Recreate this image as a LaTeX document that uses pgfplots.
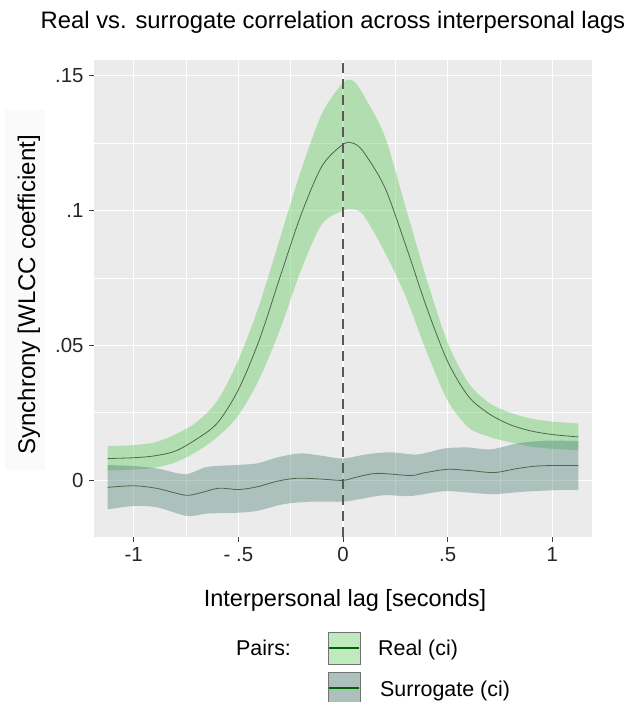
\documentclass[border=0pt]{standalone}
\usepackage{fontspec}
\setmainfont{Liberation Sans}
\usepackage{pgfplots}
\usepackage{pgfplotstable}
\pgfplotsset{compat=1.18}
\usepgfplotslibrary{fillbetween}
\definecolor{panel}{HTML}{EBEBEB}
\definecolor{realfill}{RGB}{92,202,92}
\definecolor{surfill}{RGB}{78,128,118}
\definecolor{meanline}{RGB}{75,105,75}
\definecolor{keyline}{RGB}{0,100,0}

% Real pairs: x, mean, lower CI, upper CI
\pgfplotstableread{
x m lo hi
-1.125 0.0080 0.0036 0.0126
-1.0 0.0083 0.0039 0.0130
-0.9 0.0090 0.0046 0.0140
-0.8 0.0108 0.0066 0.0170
-0.7 0.0152 0.0105 0.0215
-0.6 0.0212 0.0160 0.0295
-0.5 0.0335 0.0240 0.0445
-0.4 0.0520 0.0375 0.0650
-0.3 0.0755 0.0560 0.0900
-0.2 0.0985 0.0780 0.1150
-0.1 0.1165 0.0950 0.1360
0.0 0.1245 0.0999 0.1474
0.05 0.1249 0.1005 0.1480
0.1 0.1215 0.0980 0.1425
0.2 0.1085 0.0845 0.1275
0.3 0.0870 0.0680 0.1010
0.4 0.0640 0.0475 0.0745
0.5 0.0440 0.0295 0.0510
0.6 0.0310 0.0195 0.0360
0.7 0.0245 0.0160 0.0285
0.8 0.0205 0.0140 0.0250
0.9 0.0182 0.0124 0.0228
1.0 0.0169 0.0116 0.0217
1.125 0.0160 0.0111 0.0210
}\realdata

% Surrogate pairs: mean
\pgfplotstableread{
x y
-1.125 -0.0027
-1.0 -0.0021
-0.888 -0.0031
-0.753 -0.0056
-0.681 -0.0047
-0.593 -0.0030
-0.5 -0.0035
-0.41 -0.0025
-0.314 -0.0004
-0.219 0.0007
-0.107 0.0004
0.0 -0.0001
0.069 0.0012
0.164 0.0025
0.324 0.0017
0.388 0.0027
0.5 0.0040
0.611 0.0035
0.723 0.0028
0.834 0.0043
0.946 0.0053
1.125 0.0054
}\surmean

% Surrogate pairs: upper CI
\pgfplotstableread{
x y
-1.125 0.0056
-1.0 0.0052
-0.888 0.0043
-0.753 0.0022
-0.649 0.0049
-0.506 0.0056
-0.41 0.0062
-0.314 0.0084
-0.203 0.0099
-0.091 0.0089
0.0 0.0080
0.116 0.0096
0.228 0.0103
0.356 0.0095
0.483 0.0117
0.595 0.0121
0.707 0.0114
0.834 0.0136
0.962 0.0146
1.125 0.0145
}\surhi

% Surrogate pairs: lower CI
\pgfplotstableread{
x y
-1.125 -0.0109
-1.0 -0.0096
-0.888 -0.0101
-0.745 -0.0133
-0.649 -0.0124
-0.506 -0.0121
-0.41 -0.0114
-0.282 -0.0089
-0.155 -0.0080
0.0 -0.0080
0.069 -0.0072
0.196 -0.0056
0.324 -0.0059
0.483 -0.0041
0.611 -0.0047
0.723 -0.0052
0.866 -0.0043
1.026 -0.0037
1.125 -0.0037
}\surlo

\begin{document}
\begin{tikzpicture}
\path (0bp,0bp) rectangle (640bp,702bp);
\fill[black!2] (5bp,232bp) rectangle (45bp,592bp);
\begin{axis}[
  at={(94bp,165bp)}, anchor=south west,
  scale only axis, width=498bp, height=477bp,
  xmin=-1.19, xmax=1.19, ymin=-0.0211, ymax=0.1558,
  axis background/.style={fill=panel},
  axis line style={draw=none},
  grid=both,
  major grid style={white, line width=1.1bp},
  minor grid style={white, line width=0.55bp},
  xtick={-1,-0.5,0,0.5,1},
  xticklabels={-1,- .5,0,.5,1},
  minor xtick={-0.75,-0.25,0.25,0.75},
  ytick={0,0.05,0.1,0.15},
  yticklabels={0,.05,.1,.15},
  minor ytick={0.025,0.075,0.125},
  xtick pos=bottom, ytick pos=left,
  tick align=outside,
  major tick length=5bp, minor tick length=0bp,
  tick style={black!75, line width=0.6bp},
  ticklabel style={font=\fontsize{20.5}{24}\selectfont, text=black!85},
  xticklabel style={yshift=-2bp},
  yticklabel style={xshift=-2bp},
]
\addplot[name path=rhi, draw=none, smooth] table[x=x, y=hi] {\realdata};
\addplot[name path=rlo, draw=none, smooth] table[x=x, y=lo] {\realdata};
\addplot[realfill, fill opacity=0.4, draw=none] fill between[of=rhi and rlo];
\addplot[name path=shi, draw=none, smooth] table {\surhi};
\addplot[name path=slo, draw=none, smooth] table {\surlo};
\addplot[surfill, fill opacity=0.4, draw=none] fill between[of=shi and slo];
\addplot[meanline, line width=0.8bp, smooth] table[x=x, y=m] {\realdata};
\addplot[meanline, line width=0.8bp, smooth] table {\surmean};
\addplot[black!65, line width=1.6bp, dash pattern=on 10bp off 6bp] coordinates {(0,-0.0211) (0,0.1558)};
\end{axis}
% titles
\node[anchor=base, font=\fontsize{23.9}{28}\selectfont] at (333bp,673.5bp) {Real vs. surrogate correlation across interpersonal lags};
\node[anchor=base, font=\fontsize{23.6}{27}\selectfont] at (345bp,95bp) {Interpersonal lag [seconds]};
\node[rotate=90, anchor=center, font=\fontsize{24.2}{28}\selectfont] at (29bp,407bp) {Synchrony [WLCC coefficient]};
% legend
\node[anchor=base west, font=\fontsize{21.5}{25}\selectfont, inner sep=0pt] at (236bp,46bp) {Pairs:};
\fill[realfill, fill opacity=0.4] (328bp,38bp) rectangle (360bp,70bp);
\fill[panel] (328bp,0bp) rectangle (360bp,30bp);
\fill[surfill, fill opacity=0.4] (328bp,0bp) rectangle (360bp,30bp);
\draw[black!55, line width=0.7bp] (328bp,38bp) rectangle (360bp,70bp);
\draw[black!55, line width=0.7bp] (328bp,0.5bp) -- (328bp,30bp) -- (360bp,30bp) -- (360bp,0.5bp);
\draw[keyline, line width=2bp] (329bp,54bp) -- (359bp,54bp);
\draw[keyline, line width=2bp] (329bp,14bp) -- (359bp,14bp);
\node[anchor=base west, font=\fontsize{21.5}{25}\selectfont, inner sep=0pt] at (378bp,46bp) {Real (ci)};
\node[anchor=base west, font=\fontsize{21.5}{25}\selectfont, inner sep=0pt] at (380bp,6bp) {Surrogate (ci)};
\end{tikzpicture}
\end{document}
